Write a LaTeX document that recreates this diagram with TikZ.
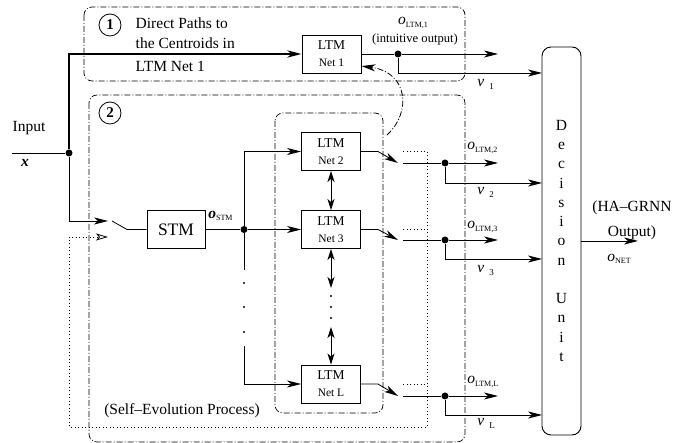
\documentclass[tikz,border=0pt]{standalone}
\usepackage{fontspec}
\setmainfont{Liberation Serif}
\usetikzlibrary{arrows.meta}
\tikzset{
  box/.style={draw, line width=0.9pt, minimum width=58pt, minimum height=38pt, inner sep=0pt, align=center},
  ltm/.style={box, minimum width=59pt},
  region/.style={draw, line width=0.7pt, rounded corners=8pt, dash pattern=on 6pt off 2pt on 1pt off 2pt},
  feed/.style={line width=0.8pt, dash pattern=on 1pt off 2.5pt},
  jdot/.style={circle, fill, inner sep=0pt, minimum size=7pt},
  arr/.style={-{Stealth[length=14pt,width=7pt,inset=4pt]}},
  dbl/.style={{Stealth[length=11pt,width=7pt,inset=3pt]}-{Stealth[length=11pt,width=7pt,inset=3pt]}},
  num/.style={draw, circle, line width=0.8pt, inner sep=0pt, minimum size=22pt, font=\fontsize{15}{15}\selectfont\bfseries},
  lbl/.style={anchor=west, inner sep=0pt}
}
\newcommand{\ltmtext}[1]{{\fontsize{13.5}{15}\selectfont LTM}\\[-1pt]{\fontsize{11.5}{13}\selectfont Net #1}}
\newcommand{\olbl}[1]{\textit{o}{\fontsize{8}{8}\selectfont\raisebox{-2.5pt}{#1}}}
\newcommand{\vlbl}[1]{\textit{v}\hspace{5pt}{\fontsize{9}{9}\selectfont\raisebox{-3pt}{#1}}}
\begin{document}
\begin{tikzpicture}[x=1pt,y=-1pt,line width=0.8pt,font=\fontsize{15.5}{18}\selectfont]
  \useasboundingbox (0,0) rectangle (673,443);
  \draw[region] (84,7) rectangle (465,81);
  \draw[region] (89,95) rectangle (465,442);
  \draw[region] (275,113) rectangle (383,413);

  \node[num] (c1) at (110,25) {1};
  \node[num] (c2) at (110,113) {2};
  \node[anchor=west] (t1) at (132,23) {Direct Paths to};
  \node[anchor=west] (t2) at (132,43) {the Centroids in};
  \node[anchor=west] (t3) at (132,66) {LTM Net 1};
  \node (sep) at (182,411) {(Self--Evolution Process)};
  \node (inp) at (29,128) {Input};
  \node (xin) at (25,163) {\textbf{\textit{x}}};

  \node[ltm] (n1) at (331.5,54) {\ltmtext{1}};
  \node[ltm] (n2) at (331,151.5) {\ltmtext{2}};
  \node[ltm] (n3) at (331,229.5) {\ltmtext{3}};
  \node[ltm] (nl) at (331,384) {\ltmtext{L}};
  \node[box, font=\fontsize{17.5}{20}\selectfont] (stm) at (176,229.5) {STM};
  \node[lbl] (ostm) at (208,216) {\textbf{\textit{o}}{\fontsize{8}{8}\selectfont\raisebox{-2.5pt}{STM}}};
  \node[draw, line width=0.9pt, rounded corners=9pt, minimum width=39pt, minimum height=388pt,
    inner sep=0pt, align=center, font=\fontsize{15.5}{19.25}\selectfont] (dec) at (561.5,241)
    {D\\e\\c\\i\\s\\i\\o\\n\\[19.25pt]U\\n\\i\\t};

  % input and the two paths
  \coordinate (in0) at (12,153);
  \node[jdot] (j0) at (69,153) {};
  \coordinate (sw0) at (108,221);
  \coordinate (sw1) at (112,221);
  \coordinate (sw2) at (127,229.5);
  \draw (in0) -- (j0);
  \draw[line width=2.8pt, arr] (j0) |- (n1);
  \draw[arr] (j0) |- (sw0);
  \draw (sw1) -- (sw2) -- (stm);

  \node[jdot] (j1) at (244,229.5) {};
  \coordinate (a1) at (244,270);
  \coordinate (a2) at (244,346);
  \draw (stm) -- (j1);
  \draw[arr] (j1) -- (n3);
  \draw[arr] (j1) |- (n2);
  \draw (j1) -- (a1);
  \draw[arr] (a2) |- (nl);
  \foreach \y in {283,307,332} \fill (244,\y) circle (1.1pt);

  \coordinate (p1) at (331,288);
  \coordinate (p2) at (331,327);
  \draw[dbl] (n2) -- (n3);
  \draw[dbl] (n3) -- (p1);
  \draw[dbl] (p2) -- (nl);
  \foreach \y in {296,307,318} \fill (331,\y) circle (1.1pt);

  % outputs
  \node[jdot] (k1) at (398,54) {};
  \coordinate (e1) at (498,54);
  \coordinate (d1) at (542,73);
  \draw (n1) -- (k1);
  \draw[arr] (k1) -- (e1);
  \draw[arr] (k1) |- (d1);

  \coordinate (s2a) at (378,151.5);
  \coordinate (s2b) at (398,163);
  \coordinate (s2c) at (403,163);
  \node[jdot] (k2) at (445,163) {};
  \coordinate (e2) at (498,163);
  \coordinate (d2) at (542,183);
  \draw[arr] (n2) -- (s2a) -- (s2b);
  \draw (s2c) -- (k2);
  \draw[arr] (k2) -- (e2);
  \draw[arr] (k2) |- (d2);

  \coordinate (s3a) at (378,229.5);
  \coordinate (s3b) at (398,240);
  \coordinate (s3c) at (403,240);
  \node[jdot] (k3) at (445,240) {};
  \coordinate (e3) at (498,240);
  \coordinate (d3) at (542,259);
  \draw[arr] (n3) -- (s3a) -- (s3b);
  \draw (s3c) -- (k3);
  \draw[arr] (k3) -- (e3);
  \draw[arr] (k3) |- (d3);

  \coordinate (sla) at (378,384);
  \coordinate (slb) at (398,396);
  \coordinate (slc) at (403,396);
  \node[jdot] (kl) at (445,396) {};
  \coordinate (el) at (498,396);
  \coordinate (dl) at (542,415);
  \draw[arr] (nl) -- (sla) -- (slb);
  \draw (slc) -- (kl);
  \draw[arr] (kl) -- (el);
  \draw[arr] (kl) |- (dl);

  \coordinate (out) at (638,241);
  \draw[arr] (dec) -- (out);

  % feedback
  \coordinate (f1) at (403,151.5);
  \coordinate (f2) at (427,427);
  \coordinate (f3) at (69,237);
  \coordinate (f4) at (108,237);
  \draw[feed, -{Stealth[open,length=12pt,width=7pt,inset=3pt]}] (f1) -| (f2) -| (f3) -- (f4);
  \draw[feed] (403,229.5) -- (427,229.5);
  \draw[feed] (403,384) -- (427,384);
  \coordinate (cv) at (387,135);
  \draw[dash pattern=on 6pt off 2pt on 1pt off 2pt, arr] (cv) .. controls (412,112) and (408,72) .. (n1.-22);

  % labels
  \node (ol1) at (413,23) {\olbl{LTM,1}};
  \node (io) at (415,39) {\fontsize{12.6}{14}\selectfont(intuitive output)};
  \node[lbl] (ol2) at (467,148) {\olbl{LTM,2}};
  \node[lbl] (ol3) at (467,227) {\olbl{LTM,3}};
  \node[lbl] (oll) at (467,382) {\olbl{LTM,L}};
  \node[lbl] (v1) at (477,84) {\vlbl{1}};
  \node[lbl] (v2) at (477,192) {\vlbl{2}};
  \node[lbl] (v3) at (477,270) {\vlbl{3}};
  \node[lbl] (vl) at (477,423) {\vlbl{L}};
  \node[lbl] (onet) at (607,259) {\olbl{NET}};
  \node[align=center, font=\fontsize{15.5}{25}\selectfont] (hag) at (632,220) {(HA--GRNN\\Output)};
\end{tikzpicture}
\end{document}
